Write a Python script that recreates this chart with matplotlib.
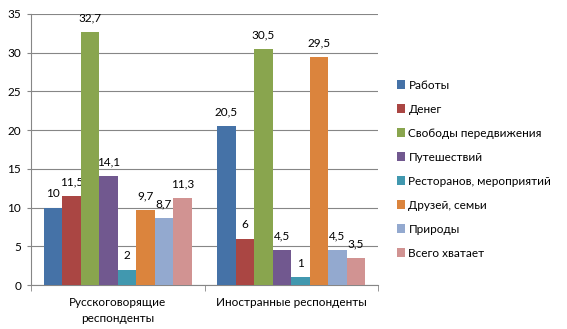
import matplotlib.pyplot as plt
import numpy as np

plt.rcParams['font.family'] = ['Lato', 'DejaVu Sans']

# Данные
groups = ["Русскоговорящие\nреспонденты", "Иностранные респонденты"]
series = ["Работы", "Денег", "Свободы передвижения", "Путешествий",
          "Ресторанов, мероприятий", "Друзей, семьи", "Природы", "Всего хватает"]
values_ru = [10, 11.5, 32.7, 14.1, 2, 9.7, 8.7, 11.3]
values_foreign = [20.5, 6, 30.5, 4.5, 1, 29.5, 4.5, 3.5]
labels_ru = ["10", "11,5", "32,7", "14,1", "2", "9,7", "8,7", "11,3"]
labels_foreign = ["20,5", "6", "30,5", "4,5", "1", "29,5", "4,5", "3,5"]
colors = ["#4572A7", "#AA4643", "#89A54E", "#71588F",
          "#4198AF", "#DB843D", "#93A9CF", "#D19392"]

fig = plt.figure(figsize=(5.67, 3.29), dpi=100)
ax = fig.add_axes([31/567, 1 - 285/329, (378-31)/567, (285-14)/329])

n = len(series)
bw = 0.853 / n
x = np.arange(len(groups))
for i in range(n):
    pos = x - 0.853/2 + bw*(i + 0.5)
    vals = [values_ru[i], values_foreign[i]]
    bars = ax.bar(pos, vals, width=bw, color=colors[i], label=series[i], zorder=3)
    for b, lab in zip(bars, [labels_ru[i], labels_foreign[i]]):
        ax.text(b.get_x() + b.get_width()/2, b.get_height() + 1.1, lab,
                ha='center', va='bottom', fontsize=8.5, color='black')

ax.set_xlim(-0.5, 1.5)
ax.set_ylim(0, 35)
ax.set_yticks(range(0, 36, 5))
ax.yaxis.grid(True, color='#868686', linewidth=0.8, zorder=0)
ax.tick_params(axis='y', labelsize=8.5, length=3, color='#868686', pad=4)
ax.set_xticks(x)
ax.set_xticklabels(groups, fontsize=8.5, linespacing=1.5)
ax.tick_params(axis='x', length=0, pad=9)
ax.set_xticks([-0.5, 0.5, 1.5], minor=True)
ax.tick_params(axis='x', which='minor', length=4, color='#868686')
for s in ['top', 'right']:
    ax.spines[s].set_visible(False)
for s in ['left', 'bottom']:
    ax.spines[s].set_color('#868686')

fig.legend(loc='upper left', bbox_to_anchor=(386/567, 1 - 69/329), frameon=False,
           fontsize=8.5, handlelength=0.7, handleheight=0.7, handletextpad=0.3,
           labelspacing=1.1)

fig.savefig("out.png", dpi=100)
